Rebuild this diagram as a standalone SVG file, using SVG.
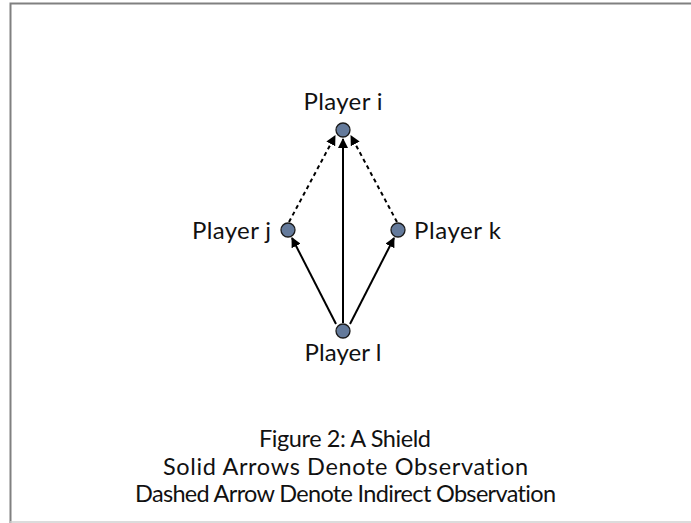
<svg xmlns="http://www.w3.org/2000/svg" width="691" height="523" viewBox="0 0 691 523">
<defs>
<style>
.lbl{font-family:"Lato","Liberation Sans",sans-serif;font-size:24px;fill:#111}
.cap{font-family:"Lato","Liberation Sans",sans-serif;font-size:23.5px;fill:#111;text-anchor:middle;font-variant-ligatures:none}
.node{fill:#647a9b;stroke:#1a1a1a;stroke-width:1.3}
.edge{stroke:#000;stroke-width:2;fill:none}
.dash{stroke-dasharray:4 3.5}
</style>
<marker id="ah" viewBox="0 0 10 10" refX="9" refY="5" markerWidth="5" markerHeight="5" orient="auto" markerUnits="strokeWidth">
<path d="M0,0 L10,5 L0,10 z" fill="#000"/>
</marker>
</defs>
<rect x="0" y="0" width="691" height="523" fill="#fff"/>
<path d="M10.5,523 V3.5 H691" fill="none" stroke="#808080" stroke-width="2"/>
<line x1="10" y1="522" x2="691" y2="522" stroke="#d0d0d0" stroke-width="1.5"/>
<g id="connectors">
<line class="edge" x1="343" y1="323" x2="343" y2="139" marker-end="url(#ah)"/>
<line class="edge" x1="336" y1="324" x2="292" y2="238" marker-end="url(#ah)"/>
<line class="edge" x1="350" y1="324" x2="394" y2="238" marker-end="url(#ah)"/>
<line class="edge dash" x1="289" y1="222" x2="335" y2="136" marker-end="url(#ah)"/>
<line class="edge dash" x1="397" y1="222" x2="351" y2="136" marker-end="url(#ah)"/>
</g>
<g id="player-i">
<circle class="node" cx="343" cy="130" r="7"/>
<text class="lbl" x="343" y="110" text-anchor="middle" textLength="79" lengthAdjust="spacing">Player i</text>
</g>
<g id="player-j">
<circle class="node" cx="288" cy="230" r="7"/>
<text class="lbl" x="192" y="239" textLength="79" lengthAdjust="spacing">Player j</text>
</g>
<g id="player-k">
<circle class="node" cx="398" cy="230" r="7"/>
<text class="lbl" x="414" y="239" textLength="87" lengthAdjust="spacing">Player k</text>
</g>
<g id="player-l">
<circle class="node" cx="343" cy="331" r="7"/>
<text class="lbl" x="343" y="361" text-anchor="middle" textLength="77" lengthAdjust="spacing">Player l</text>
</g>
<g id="caption">
<text class="cap" x="345" y="447" textLength="172" lengthAdjust="spacing">Figure 2: A Shield</text>
<text class="cap" x="345.5" y="475" textLength="365" lengthAdjust="spacing">Solid Arrows Denote Observation</text>
<text class="cap" x="345.5" y="502" textLength="421" lengthAdjust="spacing">Dashed Arrow Denote Indirect Observation</text>
</g>
</svg>
